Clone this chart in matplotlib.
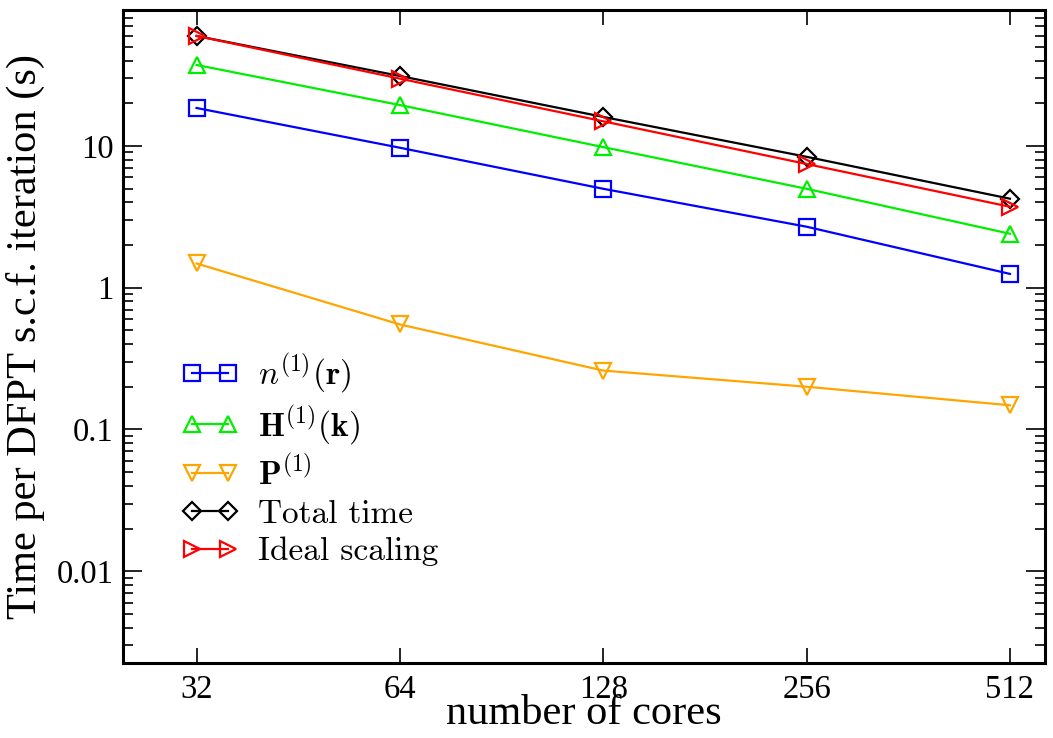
import numpy as np
import matplotlib
matplotlib.use("Agg")
from matplotlib import pyplot as plt
from matplotlib.ticker import FixedLocator, FixedFormatter, LogLocator, NullFormatter

cores = [32, 64, 128, 256, 512]
n1_r = [18.5, 9.7, 4.98, 2.69, 1.25]
h1_k = [37.2, 19.4, 9.8, 4.98, 2.4]
p1 = [1.48, 0.55, 0.26, 0.20, 0.148]
total = [59.6, 31.1, 16.0, 8.37, 4.24]
ideal = [59.6, 29.8, 14.9, 7.45, 3.72]

x_ticklabels = ["32", "64", "128", "256", "512"]
y_ticks = [0.01, 0.1, 1, 10]
y_ticklabels = ["0.01", "0.1", "1", "10"]

series = [
    (n1_r, r"$n^{(1)}(\mathbf{r})$", "#0000ff", "s"),
    (h1_k, r"$\mathbf{H}^{(1)}(\mathbf{k})$", "#00ee00", "^"),
    (p1, r"$\mathbf{P}^{(1)}$", "#ffa500", "v"),
    (total, "Total time", "black", "D"),
    (ideal, "Ideal scaling", "#ff0000", ">"),
]

plt.rcParams["font.family"] = ["Liberation Serif", "DejaVu Serif"]
plt.rcParams["mathtext.fontset"] = "cm"
plt.rcParams["axes.unicode_minus"] = False


def plot_scaling():
    fig = plt.figure(figsize=(10.53, 7.38), dpi=100)
    ax = fig.add_axes([0.1168, 0.1016, 0.8756, 0.8848])

    for vals, label, color, marker in series:
        ms = 9 if marker == "D" else 12
        ax.plot(cores, vals, color=color, lw=1.6, marker=marker, ms=ms,
                mfc="none", mec=color, mew=1.6, label=label)

    ax.set_xscale("log", base=2)
    ax.set_yscale("log")
    ax.set_xlim(24.9, 577)
    ax.set_ylim(0.00225, 90.8)

    ax.xaxis.set_major_locator(FixedLocator(cores))
    ax.xaxis.set_major_formatter(FixedFormatter(x_ticklabels))
    ax.xaxis.set_minor_locator(FixedLocator([]))
    ax.yaxis.set_major_locator(FixedLocator(y_ticks))
    ax.yaxis.set_major_formatter(FixedFormatter(y_ticklabels))
    ax.yaxis.set_minor_locator(LogLocator(base=10, subs=np.arange(2, 10), numticks=20))
    ax.yaxis.set_minor_formatter(NullFormatter())

    ax.tick_params(which="both", direction="in", top=True, right=True,
                   labelsize=23.5, width=1.2)
    ax.tick_params(axis="x", which="major", length=11, pad=8)
    ax.tick_params(axis="y", which="major", length=14, pad=7)
    ax.tick_params(axis="y", which="minor", length=7)
    for s in ax.spines.values():
        s.set_linewidth(2.2)

    ax.set_xlabel("number of cores", fontsize=30.5, labelpad=-7)
    ax.set_ylabel("Time per DFPT s.c.f. iteration (s)", fontsize=30.5, labelpad=8)

    ax.legend(loc="lower left", bbox_to_anchor=(0.064, 0.148), numpoints=2,
              frameon=False, prop={"family": "cmr10", "size": 24},
              handlelength=1.68, handletextpad=0.6, labelspacing=0.25,
              borderaxespad=0, borderpad=0)
    return fig


if __name__ == "__main__":
    fig = plot_scaling()
    fig.savefig("out.png", dpi=100)
